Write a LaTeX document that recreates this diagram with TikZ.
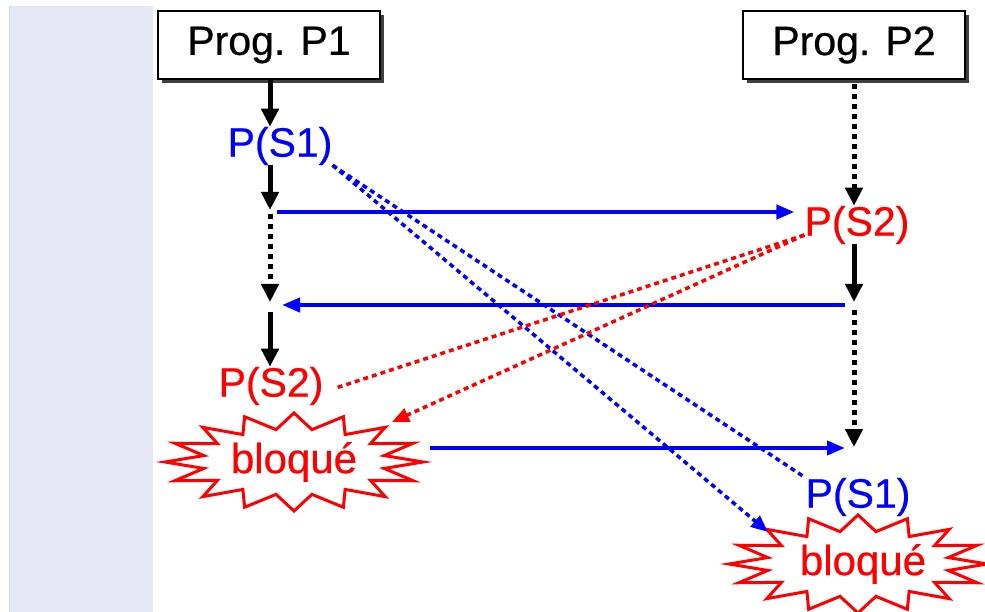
\documentclass[tikz,border=0pt]{standalone}
\usepackage{fontspec}
\setmainfont{Liberation Sans}[BoldFont={Liberation Sans}, BoldFeatures={FakeBold=0.6}]
\usetikzlibrary{arrows.meta,shadows}

\definecolor{bandeclair}{RGB}{229,231,245}
\definecolor{bandebord}{RGB}{208,212,240}

\begin{document}
\begin{tikzpicture}[
    x=1pt, y=-1pt,
    font=\fontsize{41}{48}\selectfont\bfseries,
    progbox/.style={draw=black, line width=2pt, fill=white, minimum width=222pt, minimum height=68pt, inner sep=0pt,
        drop shadow={shadow xshift=4pt, shadow yshift=-4pt, fill=black!75, opacity=1}},
    optext/.style={inner sep=0pt},
    blocbox/.style={text=red, minimum width=258pt, minimum height=97pt, inner sep=0pt, font=\fontsize{42}{48}\selectfont\bfseries},
    blocstar/.style={draw=red, line width=3pt, fill=white, line join=miter},
    seq/.style={-{Triangle[width=17pt, length=18pt]}, line width=5pt, draw=black},
    seqdot/.style={seq, dash pattern=on 5pt off 5pt},
    msg/.style={-{Triangle[width=14pt, length=18pt]}, line width=4pt, draw=blue},
    sigblue/.style={line width=3.5pt, draw=blue, dash pattern=on 5pt off 4pt},
    sigred/.style={line width=3.5pt, draw=red, dash pattern=on 5pt off 4pt},
    sigtip/.style={-{Triangle[width=14pt, length=17pt]}}
]
    \useasboundingbox (0,0) rectangle (985,612);

    % Bande latérale
    \fill[bandeclair] (9,6) rectangle (153,612);
    \draw[bandebord, line width=1.5pt] (9.5,6) -- (9.5,612);

    % Programmes
    \node[progbox] (p1) at (269,45) {Prog. P1};
    \node[progbox] (p2) at (854,45) {Prog. P2};

    % Opérations P(S1) / P(S2)
    \node[optext, text=blue] (s1a) at (280,146) {P(S1)};
    \node[optext, text=red] (s2b) at (857,225) {P(S2)};
    \node[optext, text=red] (s2a) at (271,386) {P(S2)};
    \node[optext, text=blue] (s1b) at (858,497) {P(S1)};

    % Blocages : étoile à 16 pointes puis le texte
    \coordinate (c1) at (294,462);
    \coordinate (c2) at (858,564);
    \foreach \c in {c1,c2}
        \draw[blocstar, shift={(\c)}] plot[samples at={0,11.25,...,349}, variable=\t]
            ({cos(\t)*(110.5+18.5*cos(16*\t))}, {sin(\t)*(41+8*cos(16*\t))}) -- cycle;
    \node[blocbox] (bloc1) at (c1) {bloqué};
    \node[blocbox] (bloc2) at ([xshift=5pt]c2) {bloqué};

    % Points de synchronisation
    \coordinate (l1) at (270,212);
    \coordinate (l2) at (270,305);
    \coordinate (r1) at (854,305);
    \coordinate (r2) at (854,448);
    \coordinate (bloc1in) at (392,422);
    \coordinate (bloc2in) at (768,532);

    % Fil d'exécution P1
    \draw[seq] (p1.south -| l1) -- (s1a.north -| l1);
    \draw[seq, shorten >=2pt] (s1a.south -| l1) -- (l1);
    \draw[seqdot, shorten <=2pt, shorten >=3pt] (l1) -- (l2);
    \draw[seq, shorten <=7pt] (l2) -- (s2a.north -| l2);

    % Fil d'exécution P2
    \draw[seqdot, shorten <=4pt] (p2.south) -- (s2b.north -| p2.south);
    \draw[seq, shorten >=3pt] (s2b.south -| r1) -- (r1);
    \draw[seqdot, shorten <=5pt, shorten >=1pt] (r1) -- (r2);

    % Exécution entrelacée
    \draw[msg, shorten <=7pt, shorten >=10pt] (l1) -- (s2b.west |- l1);
    \draw[msg, shorten <=9pt, shorten >=12pt] (r1) -- (l2);
    \draw[msg, shorten <=7pt, shorten >=9pt] (bloc1.east |- r2) -- (r2);

    % Attente sur les sémaphores
    \draw[sigblue] (s1a.south east) -- (s1b.north west);
    \draw[sigblue, sigtip] (s1a.south east) -- (bloc2in);
    \draw[sigred, shorten >=14pt] ([yshift=-10pt]s2b.west) -- ([yshift=-6pt]s2a.east);
    \draw[sigred, sigtip] ([yshift=-10pt]s2b.west) -- (bloc1in);

\end{tikzpicture}
\end{document}
